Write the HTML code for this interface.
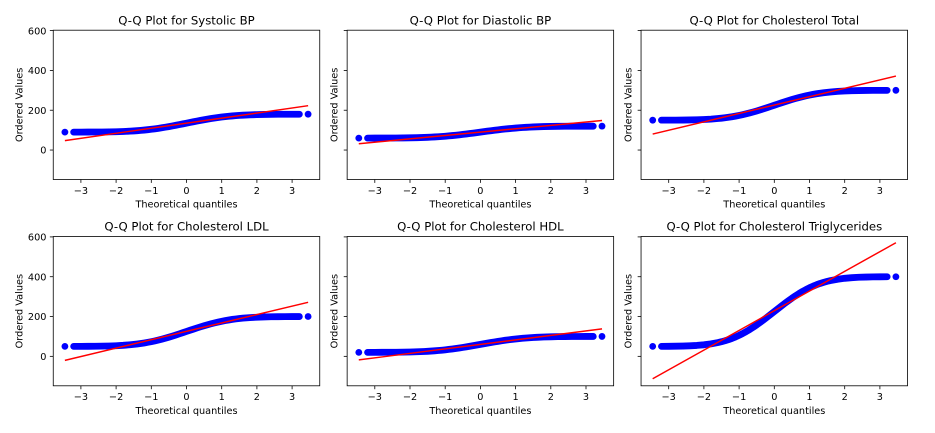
<!DOCTYPE html>
<html>
<head>
<meta charset="utf-8">
<style>
  html, body { margin:0; padding:0; background:#fff; }
  body { width:935px; height:433px; overflow:hidden; }
  svg { display:block; }
  text { font-family: "DejaVu Sans", "Liberation Sans", sans-serif; fill:#000; }
  .t { font-size:11.7px; text-anchor:middle; }
  .tk { font-size:9.72px; }
  .xl { font-size:9.72px; text-anchor:middle; }
  .band { fill:none; stroke:#0000ff; stroke-width:6.8; stroke-linecap:round; stroke-linejoin:round; vector-effect:non-scaling-stroke; }
  .fit { fill:none; stroke:#ff0000; stroke-width:1.46; vector-effect:non-scaling-stroke; }
  .sp { fill:none; stroke:#000; stroke-width:0.8; }
  .tm { stroke:#000; stroke-width:0.8; }
</style>
</head>
<body>
<svg width="935" height="433" viewBox="0 0 935 433" xmlns="http://www.w3.org/2000/svg">

<!-- ================= Plot 1: Systolic BP ================= -->
<g transform="translate(53.25,30.2)">
  <circle cx="11.65" cy="101.92" r="3.4" fill="#0000ff"/>
  <circle cx="254.85" cy="84.00" r="3.4" fill="#0000ff"/>
  <g transform="matrix(35.2,0,0,-17.916,133.25,101.92)">
    <path class="band" d="M-3.206 0.00067 L-3 0.00135 L-2.8 0.00256 L-2.6 0.00466 L-2.4 0.0082 L-2.2 0.0139 L-2 0.02275 L-1.8 0.0359 L-1.6 0.0548 L-1.5 0.0668 L-1.4 0.0808 L-1.3 0.0968 L-1.2 0.1151 L-1.1 0.1357 L-1 0.1587 L-0.9 0.1841 L-0.8 0.2119 L-0.7 0.242 L-0.6 0.2743 L-0.5 0.3085 L-0.4 0.3446 L-0.3 0.3821 L-0.2 0.4207 L-0.1 0.4602 L0 0.5 L0.1 0.5398 L0.2 0.5793 L0.3 0.6179 L0.4 0.6554 L0.5 0.6915 L0.6 0.7257 L0.7 0.758 L0.8 0.7881 L0.9 0.8159 L1 0.8413 L1.1 0.8643 L1.2 0.8849 L1.3 0.9032 L1.4 0.9192 L1.5 0.9332 L1.6 0.9452 L1.8 0.9641 L2 0.97725 L2.2 0.9861 L2.4 0.9918 L2.6 0.99534 L2.8 0.99744 L3 0.99865 L3.206 0.99933"/>
    <path class="fit" d="M-3.455 -0.474 L3.455 1.474"/>
  </g>
  <rect class="sp" x="0" y="0" width="266.5" height="149.3"/>
  <g class="tm">
    <line x1="27.65" y1="149.3" x2="27.65" y2="152.7"/><line x1="62.85" y1="149.3" x2="62.85" y2="152.7"/><line x1="98.05" y1="149.3" x2="98.05" y2="152.7"/><line x1="133.25" y1="149.3" x2="133.25" y2="152.7"/><line x1="168.45" y1="149.3" x2="168.45" y2="152.7"/><line x1="203.65" y1="149.3" x2="203.65" y2="152.7"/><line x1="238.85" y1="149.3" x2="238.85" y2="152.7"/>
    <line x1="-3.4" y1="119.84" x2="0" y2="119.84"/><line x1="-3.4" y1="80.03" x2="0" y2="80.03"/><line x1="-3.4" y1="40.21" x2="0" y2="40.21"/><line x1="-3.4" y1="0.4" x2="0" y2="0.4"/>
  </g>
  <g class="tk" text-anchor="middle">
    <text x="27.65" y="163.7">−3</text><text x="62.85" y="163.7">−2</text><text x="98.05" y="163.7">−1</text><text x="133.25" y="163.7">0</text><text x="168.45" y="163.7">1</text><text x="203.65" y="163.7">2</text><text x="238.85" y="163.7">3</text>
  </g>
  <g class="tk" text-anchor="end">
    <text x="-6.8" y="123.54">0</text><text x="-6.8" y="83.73">200</text><text x="-6.8" y="43.91">400</text><text x="-6.8" y="4.1">600</text>
  </g>
  <text class="t" x="133.25" y="-5.8">Q-Q Plot for Systolic BP</text>
  <text class="xl" x="133.25" y="177.3">Theoretical quantiles</text>
  <text class="xl" transform="translate(-30.95,74.65) rotate(-90)">Ordered Values</text>
</g>

<!-- ================= Plot 2: Diastolic BP ================= -->
<g transform="translate(347.15,30.2)">
  <circle cx="11.65" cy="107.90" r="3.4" fill="#0000ff"/>
  <circle cx="254.85" cy="95.96" r="3.4" fill="#0000ff"/>
  <g transform="matrix(35.2,0,0,-11.944,133.25,107.90)">
    <path class="band" d="M-3.206 0.00067 L-3 0.00135 L-2.8 0.00256 L-2.6 0.00466 L-2.4 0.0082 L-2.2 0.0139 L-2 0.02275 L-1.8 0.0359 L-1.6 0.0548 L-1.5 0.0668 L-1.4 0.0808 L-1.3 0.0968 L-1.2 0.1151 L-1.1 0.1357 L-1 0.1587 L-0.9 0.1841 L-0.8 0.2119 L-0.7 0.242 L-0.6 0.2743 L-0.5 0.3085 L-0.4 0.3446 L-0.3 0.3821 L-0.2 0.4207 L-0.1 0.4602 L0 0.5 L0.1 0.5398 L0.2 0.5793 L0.3 0.6179 L0.4 0.6554 L0.5 0.6915 L0.6 0.7257 L0.7 0.758 L0.8 0.7881 L0.9 0.8159 L1 0.8413 L1.1 0.8643 L1.2 0.8849 L1.3 0.9032 L1.4 0.9192 L1.5 0.9332 L1.6 0.9452 L1.8 0.9641 L2 0.97725 L2.2 0.9861 L2.4 0.9918 L2.6 0.99534 L2.8 0.99744 L3 0.99865 L3.206 0.99933"/>
    <path class="fit" d="M-3.455 -0.474 L3.455 1.474"/>
  </g>
  <rect class="sp" x="0" y="0" width="266.5" height="149.3"/>
  <g class="tm">
    <line x1="27.65" y1="149.3" x2="27.65" y2="152.7"/><line x1="62.85" y1="149.3" x2="62.85" y2="152.7"/><line x1="98.05" y1="149.3" x2="98.05" y2="152.7"/><line x1="133.25" y1="149.3" x2="133.25" y2="152.7"/><line x1="168.45" y1="149.3" x2="168.45" y2="152.7"/><line x1="203.65" y1="149.3" x2="203.65" y2="152.7"/><line x1="238.85" y1="149.3" x2="238.85" y2="152.7"/>
    <line x1="-3.4" y1="119.84" x2="0" y2="119.84"/><line x1="-3.4" y1="80.03" x2="0" y2="80.03"/><line x1="-3.4" y1="40.21" x2="0" y2="40.21"/><line x1="-3.4" y1="0.4" x2="0" y2="0.4"/>
  </g>
  <g class="tk" text-anchor="middle">
    <text x="27.65" y="163.7">−3</text><text x="62.85" y="163.7">−2</text><text x="98.05" y="163.7">−1</text><text x="133.25" y="163.7">0</text><text x="168.45" y="163.7">1</text><text x="203.65" y="163.7">2</text><text x="238.85" y="163.7">3</text>
  </g>
  <text class="t" x="133.25" y="-5.8">Q-Q Plot for Diastolic BP</text>
  <text class="xl" x="133.25" y="177.3">Theoretical quantiles</text>
  <text class="xl" transform="translate(-9.6,74.65) rotate(-90)">Ordered Values</text>
</g>

<!-- ================= Plot 3: Cholesterol Total ================= -->
<g transform="translate(641.05,30.2)">
  <circle cx="11.65" cy="89.98" r="3.4" fill="#0000ff"/>
  <circle cx="254.85" cy="60.12" r="3.4" fill="#0000ff"/>
  <g transform="matrix(35.2,0,0,-29.86,133.25,89.98)">
    <path class="band" d="M-3.206 0.00067 L-3 0.00135 L-2.8 0.00256 L-2.6 0.00466 L-2.4 0.0082 L-2.2 0.0139 L-2 0.02275 L-1.8 0.0359 L-1.6 0.0548 L-1.5 0.0668 L-1.4 0.0808 L-1.3 0.0968 L-1.2 0.1151 L-1.1 0.1357 L-1 0.1587 L-0.9 0.1841 L-0.8 0.2119 L-0.7 0.242 L-0.6 0.2743 L-0.5 0.3085 L-0.4 0.3446 L-0.3 0.3821 L-0.2 0.4207 L-0.1 0.4602 L0 0.5 L0.1 0.5398 L0.2 0.5793 L0.3 0.6179 L0.4 0.6554 L0.5 0.6915 L0.6 0.7257 L0.7 0.758 L0.8 0.7881 L0.9 0.8159 L1 0.8413 L1.1 0.8643 L1.2 0.8849 L1.3 0.9032 L1.4 0.9192 L1.5 0.9332 L1.6 0.9452 L1.8 0.9641 L2 0.97725 L2.2 0.9861 L2.4 0.9918 L2.6 0.99534 L2.8 0.99744 L3 0.99865 L3.206 0.99933"/>
    <path class="fit" d="M-3.455 -0.465 L3.455 1.478"/>
  </g>
  <rect class="sp" x="0" y="0" width="266.5" height="149.3"/>
  <g class="tm">
    <line x1="27.65" y1="149.3" x2="27.65" y2="152.7"/><line x1="62.85" y1="149.3" x2="62.85" y2="152.7"/><line x1="98.05" y1="149.3" x2="98.05" y2="152.7"/><line x1="133.25" y1="149.3" x2="133.25" y2="152.7"/><line x1="168.45" y1="149.3" x2="168.45" y2="152.7"/><line x1="203.65" y1="149.3" x2="203.65" y2="152.7"/><line x1="238.85" y1="149.3" x2="238.85" y2="152.7"/>
    <line x1="-3.4" y1="119.84" x2="0" y2="119.84"/><line x1="-3.4" y1="80.03" x2="0" y2="80.03"/><line x1="-3.4" y1="40.21" x2="0" y2="40.21"/><line x1="-3.4" y1="0.4" x2="0" y2="0.4"/>
  </g>
  <g class="tk" text-anchor="middle">
    <text x="27.65" y="163.7">−3</text><text x="62.85" y="163.7">−2</text><text x="98.05" y="163.7">−1</text><text x="133.25" y="163.7">0</text><text x="168.45" y="163.7">1</text><text x="203.65" y="163.7">2</text><text x="238.85" y="163.7">3</text>
  </g>
  <text class="t" x="133.25" y="-5.8">Q-Q Plot for Cholesterol Total</text>
  <text class="xl" x="133.25" y="177.3">Theoretical quantiles</text>
  <text class="xl" transform="translate(-9.6,74.65) rotate(-90)">Ordered Values</text>
</g>

<!-- ================= Plot 4: Cholesterol LDL ================= -->
<g transform="translate(53.25,236.5)">
  <circle cx="11.65" cy="109.89" r="3.4" fill="#0000ff"/>
  <circle cx="254.85" cy="80.03" r="3.4" fill="#0000ff"/>
  <g transform="matrix(35.2,0,0,-29.86,133.25,109.89)">
    <path class="band" d="M-3.206 0.00067 L-3 0.00135 L-2.8 0.00256 L-2.6 0.00466 L-2.4 0.0082 L-2.2 0.0139 L-2 0.02275 L-1.8 0.0359 L-1.6 0.0548 L-1.5 0.0668 L-1.4 0.0808 L-1.3 0.0968 L-1.2 0.1151 L-1.1 0.1357 L-1 0.1587 L-0.9 0.1841 L-0.8 0.2119 L-0.7 0.242 L-0.6 0.2743 L-0.5 0.3085 L-0.4 0.3446 L-0.3 0.3821 L-0.2 0.4207 L-0.1 0.4602 L0 0.5 L0.1 0.5398 L0.2 0.5793 L0.3 0.6179 L0.4 0.6554 L0.5 0.6915 L0.6 0.7257 L0.7 0.758 L0.8 0.7881 L0.9 0.8159 L1 0.8413 L1.1 0.8643 L1.2 0.8849 L1.3 0.9032 L1.4 0.9192 L1.5 0.9332 L1.6 0.9452 L1.8 0.9641 L2 0.97725 L2.2 0.9861 L2.4 0.9918 L2.6 0.99534 L2.8 0.99744 L3 0.99865 L3.206 0.99933"/>
    <path class="fit" d="M-3.455 -0.468 L3.455 1.477"/>
  </g>
  <rect class="sp" x="0" y="0" width="266.5" height="149.3"/>
  <g class="tm">
    <line x1="27.65" y1="149.3" x2="27.65" y2="152.7"/><line x1="62.85" y1="149.3" x2="62.85" y2="152.7"/><line x1="98.05" y1="149.3" x2="98.05" y2="152.7"/><line x1="133.25" y1="149.3" x2="133.25" y2="152.7"/><line x1="168.45" y1="149.3" x2="168.45" y2="152.7"/><line x1="203.65" y1="149.3" x2="203.65" y2="152.7"/><line x1="238.85" y1="149.3" x2="238.85" y2="152.7"/>
    <line x1="-3.4" y1="119.84" x2="0" y2="119.84"/><line x1="-3.4" y1="80.03" x2="0" y2="80.03"/><line x1="-3.4" y1="40.21" x2="0" y2="40.21"/><line x1="-3.4" y1="0.4" x2="0" y2="0.4"/>
  </g>
  <g class="tk" text-anchor="middle">
    <text x="27.65" y="163.7">−3</text><text x="62.85" y="163.7">−2</text><text x="98.05" y="163.7">−1</text><text x="133.25" y="163.7">0</text><text x="168.45" y="163.7">1</text><text x="203.65" y="163.7">2</text><text x="238.85" y="163.7">3</text>
  </g>
  <g class="tk" text-anchor="end">
    <text x="-6.8" y="123.54">0</text><text x="-6.8" y="83.73">200</text><text x="-6.8" y="43.91">400</text><text x="-6.8" y="4.1">600</text>
  </g>
  <text class="t" x="133.25" y="-5.8">Q-Q Plot for Cholesterol LDL</text>
  <text class="xl" x="133.25" y="177.3">Theoretical quantiles</text>
  <text class="xl" transform="translate(-30.95,74.65) rotate(-90)">Ordered Values</text>
</g>

<!-- ================= Plot 5: Cholesterol HDL ================= -->
<g transform="translate(347.15,236.5)">
  <circle cx="11.65" cy="115.86" r="3.4" fill="#0000ff"/>
  <circle cx="254.85" cy="99.93" r="3.4" fill="#0000ff"/>
  <g transform="matrix(35.2,0,0,-15.926,133.25,115.86)">
    <path class="band" d="M-3.206 0.00067 L-3 0.00135 L-2.8 0.00256 L-2.6 0.00466 L-2.4 0.0082 L-2.2 0.0139 L-2 0.02275 L-1.8 0.0359 L-1.6 0.0548 L-1.5 0.0668 L-1.4 0.0808 L-1.3 0.0968 L-1.2 0.1151 L-1.1 0.1357 L-1 0.1587 L-0.9 0.1841 L-0.8 0.2119 L-0.7 0.242 L-0.6 0.2743 L-0.5 0.3085 L-0.4 0.3446 L-0.3 0.3821 L-0.2 0.4207 L-0.1 0.4602 L0 0.5 L0.1 0.5398 L0.2 0.5793 L0.3 0.6179 L0.4 0.6554 L0.5 0.6915 L0.6 0.7257 L0.7 0.758 L0.8 0.7881 L0.9 0.8159 L1 0.8413 L1.1 0.8643 L1.2 0.8849 L1.3 0.9032 L1.4 0.9192 L1.5 0.9332 L1.6 0.9452 L1.8 0.9641 L2 0.97725 L2.2 0.9861 L2.4 0.9918 L2.6 0.99534 L2.8 0.99744 L3 0.99865 L3.206 0.99933"/>
    <path class="fit" d="M-3.455 -0.474 L3.455 1.474"/>
  </g>
  <rect class="sp" x="0" y="0" width="266.5" height="149.3"/>
  <g class="tm">
    <line x1="27.65" y1="149.3" x2="27.65" y2="152.7"/><line x1="62.85" y1="149.3" x2="62.85" y2="152.7"/><line x1="98.05" y1="149.3" x2="98.05" y2="152.7"/><line x1="133.25" y1="149.3" x2="133.25" y2="152.7"/><line x1="168.45" y1="149.3" x2="168.45" y2="152.7"/><line x1="203.65" y1="149.3" x2="203.65" y2="152.7"/><line x1="238.85" y1="149.3" x2="238.85" y2="152.7"/>
    <line x1="-3.4" y1="119.84" x2="0" y2="119.84"/><line x1="-3.4" y1="80.03" x2="0" y2="80.03"/><line x1="-3.4" y1="40.21" x2="0" y2="40.21"/><line x1="-3.4" y1="0.4" x2="0" y2="0.4"/>
  </g>
  <g class="tk" text-anchor="middle">
    <text x="27.65" y="163.7">−3</text><text x="62.85" y="163.7">−2</text><text x="98.05" y="163.7">−1</text><text x="133.25" y="163.7">0</text><text x="168.45" y="163.7">1</text><text x="203.65" y="163.7">2</text><text x="238.85" y="163.7">3</text>
  </g>
  <text class="t" x="133.25" y="-5.8">Q-Q Plot for Cholesterol HDL</text>
  <text class="xl" x="133.25" y="177.3">Theoretical quantiles</text>
  <text class="xl" transform="translate(-9.6,74.65) rotate(-90)">Ordered Values</text>
</g>

<!-- ================= Plot 6: Cholesterol Triglycerides ================= -->
<g transform="translate(641.05,236.5)">
  <circle cx="11.65" cy="109.89" r="3.4" fill="#0000ff"/>
  <circle cx="254.85" cy="40.22" r="3.4" fill="#0000ff"/>
  <g transform="matrix(35.2,0,0,-69.67,133.25,109.89)">
    <path class="band" d="M-3.206 0.00067 L-3 0.00135 L-2.8 0.00256 L-2.6 0.00466 L-2.4 0.0082 L-2.2 0.0139 L-2 0.02275 L-1.8 0.0359 L-1.6 0.0548 L-1.5 0.0668 L-1.4 0.0808 L-1.3 0.0968 L-1.2 0.1151 L-1.1 0.1357 L-1 0.1587 L-0.9 0.1841 L-0.8 0.2119 L-0.7 0.242 L-0.6 0.2743 L-0.5 0.3085 L-0.4 0.3446 L-0.3 0.3821 L-0.2 0.4207 L-0.1 0.4602 L0 0.5 L0.1 0.5398 L0.2 0.5793 L0.3 0.6179 L0.4 0.6554 L0.5 0.6915 L0.6 0.7257 L0.7 0.758 L0.8 0.7881 L0.9 0.8159 L1 0.8413 L1.1 0.8643 L1.2 0.8849 L1.3 0.9032 L1.4 0.9192 L1.5 0.9332 L1.6 0.9452 L1.8 0.9641 L2 0.97725 L2.2 0.9861 L2.4 0.9918 L2.6 0.99534 L2.8 0.99744 L3 0.99865 L3.206 0.99933"/>
    <path class="fit" d="M-3.455 -0.464 L3.455 1.488"/>
  </g>
  <rect class="sp" x="0" y="0" width="266.5" height="149.3"/>
  <g class="tm">
    <line x1="27.65" y1="149.3" x2="27.65" y2="152.7"/><line x1="62.85" y1="149.3" x2="62.85" y2="152.7"/><line x1="98.05" y1="149.3" x2="98.05" y2="152.7"/><line x1="133.25" y1="149.3" x2="133.25" y2="152.7"/><line x1="168.45" y1="149.3" x2="168.45" y2="152.7"/><line x1="203.65" y1="149.3" x2="203.65" y2="152.7"/><line x1="238.85" y1="149.3" x2="238.85" y2="152.7"/>
    <line x1="-3.4" y1="119.84" x2="0" y2="119.84"/><line x1="-3.4" y1="80.03" x2="0" y2="80.03"/><line x1="-3.4" y1="40.21" x2="0" y2="40.21"/><line x1="-3.4" y1="0.4" x2="0" y2="0.4"/>
  </g>
  <g class="tk" text-anchor="middle">
    <text x="27.65" y="163.7">−3</text><text x="62.85" y="163.7">−2</text><text x="98.05" y="163.7">−1</text><text x="133.25" y="163.7">0</text><text x="168.45" y="163.7">1</text><text x="203.65" y="163.7">2</text><text x="238.85" y="163.7">3</text>
  </g>
  <text class="t" x="133.25" y="-5.8">Q-Q Plot for Cholesterol Triglycerides</text>
  <text class="xl" x="133.25" y="177.3">Theoretical quantiles</text>
  <text class="xl" transform="translate(-9.6,74.65) rotate(-90)">Ordered Values</text>
</g>

</svg>
</body>
</html>
